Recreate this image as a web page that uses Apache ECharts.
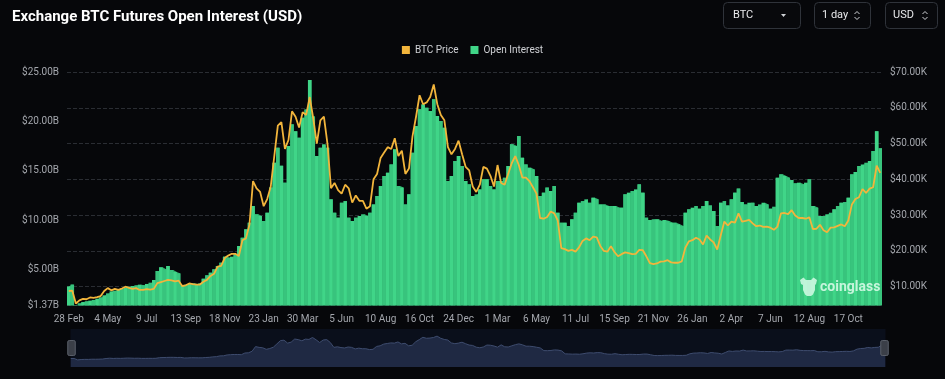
<!DOCTYPE html>
<html><head><meta charset="utf-8">
<script src="https://cdn.jsdelivr.net/npm/echarts@6/dist/echarts.min.js"></script>
<style>html,body{margin:0;padding:0;background:#06070a;}#c{width:945px;height:379px;}#err{position:absolute;left:0;top:200px;color:#f55;font:10px monospace;white-space:pre;}</style>
</head><body><div id="c"></div><div id="err"></div>
<script>
// x-axis tick labels (shown every 11th category, 6-day steps)
const tickLabels = ['28 Feb','4 May','9 Jul','13 Sep','18 Nov','23 Jan','30 Mar','5 Jun','10 Aug','16 Oct','24 Dec','1 Mar','6 May','11 Jul','15 Sep','21 Nov','26 Jan','2 Apr','7 Jun','12 Aug','17 Oct'];

// BTC price (thousand USD)
const btcPrice = [
 8.8, 8.9, 5.3, 6.2, 6.6, 6.5, 7.0, 6.9, 7.1, 7.4,
 8.8, 9.6, 9.0, 9.4, 9.1, 9.5, 10.0, 9.7, 9.4, 9.6,
 9.1, 9.1, 9.3, 9.2, 9.4, 11.0, 11.3, 11.6, 11.9, 11.8,
 11.5, 11.7, 10.2, 10.4, 10.9, 10.7, 10.6, 10.6, 11.4, 11.9,
 13.0, 13.6, 15.6, 15.8, 18.0, 18.7, 19.2, 19.2, 18.6, 23.0,
 23.5, 27.4, 39.5, 37.5, 36.5, 32.5, 34.5, 38.0, 46.5, 55.0,
 56.0, 48.5, 51.0, 59.0, 57.5, 54.5, 58.8, 58.0, 63.0, 57.0,
 50.0, 56.5, 57.5, 50.0, 37.5, 39.0, 37.0,
 36.0, 38.5, 37.5,
 33.5, 35.5, 34.0, 34.0, 31.8, 32.5, 40.0, 41.5, 46.0, 47.5,
 49.0, 48.5, 51.5, 46.5, 48.0, 41.5, 43.0, 52.0, 57.5, 63.5,
 61.0, 61.5, 63.0, 66.5, 61.0, 58.0, 56.5, 49.0, 47.0, 48.5,
 50.8, 47.0, 43.5, 42.5, 38.0, 36.5, 38.5, 43.5, 43.0, 41.0,
 38.0, 44.0, 39.0, 38.5, 41.5, 44.5, 46.5, 44.0, 40.5, 40.5,
 39.5, 37.8, 36.0, 29.2, 29.0, 29.5, 31.0, 30.5, 28.5, 20.8,
 20.5, 20.0, 20.3, 19.8, 21.0, 22.8, 23.5, 23.0, 24.0, 23.8,
 21.4, 20.0, 19.8, 21.3,
 19.7, 18.5, 19.1, 19.6, 19.4, 19.1,
 19.2, 20.3, 20.2, 18.5, 16.6, 16.3, 16.5, 17.0, 17.1, 17.4,
 16.8, 16.7, 16.7, 17.1, 20.9, 22.7, 23.0, 23.7, 23.2, 21.8,
 24.3, 23.2, 22.4, 20.4, 24.4, 28.2, 27.1, 28.2, 27.9, 30.5,
 28.2, 28.4, 28.7, 27.7, 26.9, 27.1, 26.7, 26.8, 26.5, 25.9,
 26.8, 30.5, 30.6, 30.3, 31.4, 29.9, 29.2, 29.2, 29.0, 29.4,
 26.1, 26.2, 27.3, 25.8, 25.2, 26.5, 26.6, 27.0, 27.4, 26.9,
 28.5, 33.0, 34.5, 35.0, 37.3, 36.2, 37.4, 37.8, 43.8, 41.8
];

// Open interest (billion USD)
const openInterest = [
 3.3, 3.5, 1.4, 1.6, 1.72, 1.8, 1.86, 1.93, 2.06, 2.2,
 2.4, 2.6, 2.8, 2.87, 3.0, 3.07, 3.2, 3.28, 3.34, 3.41,
 3.48, 3.41, 3.55, 3.68, 3.95, 4.86, 5.23, 5.03, 5.37, 4.96,
 4.76, 4.62, 3.41, 3.48, 3.55, 3.61, 3.51, 3.61, 4.08, 4.42,
 4.69, 5.03, 5.37, 5.7, 6.31, 6.21, 6.31, 6.55, 7.39, 8.23,
 9.08, 9.75, 11.44, 10.6, 10.43, 9.92, 10.76, 13.3, 15.82, 17.34,
 15.5, 13.8, 17.5, 19.7, 19.0, 18.35, 20.37, 21.2, 24.2, 20.5,
 16.5, 17.34, 17.67, 17.34, 12.11, 10.76, 10.26,
 11.77, 11.94, 10.26,
 9.92, 10.26, 10.43, 10.6, 10.43, 10.76, 11.6, 12.45, 13.46, 14.47,
 14.8, 15.65, 17.17, 13.46, 13.3, 11.6, 12.62, 16.83, 19.53, 21.22,
 21.72, 21.39, 21.05, 22.23, 20.54, 20.04, 19.36, 13.97, 14.47, 15.99,
 16.5, 15.49, 13.97, 13.63, 12.45, 12.62, 13.12, 14.14, 14.14, 13.46,
 13.12, 13.97, 13.97, 14.3, 15.49, 17.68, 17.51, 18.52, 16.33, 15.65,
 15.32, 15.14, 14.47, 12.45, 12.79, 13.3, 12.96, 13.46, 10.76, 9.75,
 9.75, 9.41, 10.09, 10.76, 11.77, 11.94, 12.11, 11.77, 12.28, 12.11,
 11.6, 11.6, 11.44, 11.44,
 11.44, 11.27, 11.27, 12.62, 12.79, 12.96,
 13.12, 13.63, 12.79, 10.26, 10.02, 10.09, 10.09, 9.92, 10.02, 9.92,
 9.75, 9.75, 9.58, 9.41, 10.76, 11.1, 11.27, 11.44, 11.17, 11.44,
 11.94, 11.5, 10.93, 9.41, 11.77, 11.94, 11.5, 12.11, 12.79, 13.2,
 11.84, 11.6, 11.77, 11.77, 11.44, 11.6, 11.77, 11.6, 11.17, 11.37,
 14.3, 14.64, 14.47, 14.3, 14.07, 13.73, 13.8, 13.63, 13.8, 14.14,
 11.44, 11.27, 10.43, 10.43, 10.6, 10.76, 11.1, 11.44, 11.77, 11.84,
 12.28, 14.64, 14.88, 15.49, 15.65, 15.82, 15.99, 17.0, 19.0, 17.3
];

// categories: one per 6 days starting 28 Feb 2020
const startDate = new Date(Date.UTC(2020, 1, 28));
const categories = btcPrice.map((_, i) => {
  const d = new Date(startDate.getTime() + i * 6 * 86400000);
  return d.toISOString().slice(0, 10);
});

const chart = echarts.init(document.getElementById('c'));
const font = 'Roboto';
const labelColor = '#a4a7ad';
const GREEN_A = '#40d588', GREEN_B = '#38c47d', GREEN_SEAM = '#2fae6c', ORANGE = '#f2b53c';
const oiData = openInterest.map((v, i) => ({value: v, itemStyle: {color: i % 2 ? GREEN_B : GREEN_A}}));

function chevrons(cx) {
  return [
    {type:'polyline', shape:{points:[[cx-2.5,14],[cx,11.5],[cx+2.5,14]]}, style:{stroke:'#cfd2d6', lineWidth:1}},
    {type:'polyline', shape:{points:[[cx-2.5,17],[cx,19.5],[cx+2.5,17]]}, style:{stroke:'#cfd2d6', lineWidth:1}}
  ];
}
const errs = [];
function safe(name, opt) {
  try { chart.setOption(opt); } catch (e) { errs.push(name + ': ' + e.message); }
}
safe('base', {
  backgroundColor: '#06070a',
  animation: false,
  color: [ORANGE, GREEN_A],
  title: {
    text: 'Exchange BTC Futures Open Interest (USD)',
    left: 7, top: 5,
    textStyle: {color: '#ffffff', fontSize: 15, fontWeight: 'bold', fontFamily: font}
  },
  grid: {left: 67, right: 63, top: 72, bottom: 73.5},
  xAxis: {
    type: 'category',
    data: categories,
    boundaryGap: true,
    axisLine: {show: false},
    axisTick: {show: false},
    axisLabel: {
      interval: 10,
      color: labelColor, fontSize: 10, fontFamily: font, margin: 9,
      formatter: (v, idx) => tickLabels[Math.round(idx / 11)] || ''
    },
    splitLine: {show: false}
  },
  yAxis: [
    {
      type: 'value', position: 'left', min: 1.37, max: 25, splitNumber: 5,
      axisLine: {show: false}, axisTick: {show: false},
      splitLine: {show: false},
      axisLabel: {color: labelColor, fontSize: 10, fontFamily: font, margin: 8,
        formatter: v => '$' + v.toFixed(2) + 'B'}
    },
    {
      type: 'value', position: 'right', min: 4.75, max: 70, splitNumber: 7,
      axisLine: {show: false}, axisTick: {show: false},
      splitLine: {show: true, lineStyle: {color: '#2a2d33', type: 'dashed', width: 1}},
      axisLabel: {color: labelColor, fontSize: 10, fontFamily: font, margin: 8, showMinLabel: false,
        formatter: v => '$' + v.toFixed(2) + 'K'}
    }
  ]
});
safe('series', {
  series: [
    {
      name: 'BTC Price', type: 'line', yAxisIndex: 1, data: btcPrice,
      symbol: 'none', z: 5,
      lineStyle: {color: ORANGE, width: 1.8},
      itemStyle: {color: ORANGE}
    },
    {
      name: 'Open Interest', type: 'bar', yAxisIndex: 0, data: oiData,
      barCategoryGap: '0%', barGap: '-100%', z: 3,
      itemStyle: {color: GREEN_A}
    },
    {
      name: 'Open Interest', type: 'line', yAxisIndex: 0, data: openInterest,
      step: 'middle', symbol: 'none', z: 2,
      lineStyle: {width: 0, color: GREEN_SEAM},
      itemStyle: {color: GREEN_SEAM},
      areaStyle: {color: GREEN_SEAM, opacity: 1, origin: 'start'}
    }
  ]
});
safe('legend', {
  legend: {
    top: 40, left: 'center',
    itemWidth: 8, itemHeight: 8, itemGap: 12,
    icon: 'rect',
    textStyle: {color: '#d0d2d6', fontSize: 10, fontFamily: font},
    data: [{name: 'BTC Price', itemStyle: {color: ORANGE}}, {name: 'Open Interest', itemStyle: {color: GREEN_A}}]
  }
});
const boxes = [
  {type:'rect', shape:{x:723.5, y:2.5, width:77, height:26, r:4}, style:{fill:'#08090c', stroke:'#2f333a', lineWidth:1}},
  {type:'text', x:733, y:15.5, style:{text:'BTC', fill:'#e8e9eb', font:'11px Roboto', align:'left', verticalAlign:'middle'}},
  {type:'polygon', shape:{points:[[781,14],[786,14],[783.5,17]]}, style:{fill:'#cfd2d6'}},
  {type:'rect', shape:{x:814.5, y:2.5, width:56, height:26, r:4}, style:{fill:'#08090c', stroke:'#2f333a', lineWidth:1}},
  {type:'text', x:822, y:15.5, style:{text:'1 day', fill:'#e8e9eb', font:'11px Roboto', align:'left', verticalAlign:'middle'}},
  ...chevrons(857),
  {type:'rect', shape:{x:885.5, y:2.5, width:52, height:26, r:4}, style:{fill:'#08090c', stroke:'#2f333a', lineWidth:1}},
  {type:'text', x:893, y:15.5, style:{text:'USD', fill:'#e8e9eb', font:'11px Roboto', align:'left', verticalAlign:'middle'}},
  ...chevrons(925),
  {type:'polygon', z: 10, shape:{points:[[800,280],[803.5,277.5],[806,280],[811,280],[813.5,277.5],[817,280],[816,284],[815,285],[815,290],[813,294.5],[811,296],[807,296],[805,294.5],[803,290],[803,285],[801,284]]}, style:{fill:'rgba(214,250,230,0.85)'}},
  {type:'text', z: 10, x:820, y:287.5, style:{text:'coinglass', fill:'rgba(214,250,230,0.9)', font:'bold 14px Roboto', align:'left', verticalAlign:'middle'}}
];
safe('graphic', {graphic: boxes});
safe('dataZoom', {
  dataZoom: [{
    type: 'slider', xAxisIndex: 0, start: 0, end: 100,
    left: 68, right: 62, top: 329, height: 38,
    backgroundColor: '#0a0f1b',
    borderColor: 'transparent',
    fillerColor: 'rgba(0,0,0,0)',
    showDetail: false,
    moveHandleSize: 0,
    handleIcon: 'path://M2,0H8Q10,0 10,2V18Q10,20 8,20H2Q0,20 0,18V2Q0,0 2,0Z',
    handleSize: 15,
    handleStyle: {color: '#3b3f48', borderColor: '#5a5f69', borderWidth: 1},
    dataBackground: {
      lineStyle: {color: '#3e4c6e', width: 1},
      areaStyle: {color: '#1f2943', opacity: 1}
    },
    selectedDataBackground: {
      lineStyle: {color: '#3e4c6e', width: 1},
      areaStyle: {color: '#1f2943', opacity: 1}
    }
  }]
});
document.getElementById('err').textContent = errs.join('\n');
</script></body></html>
